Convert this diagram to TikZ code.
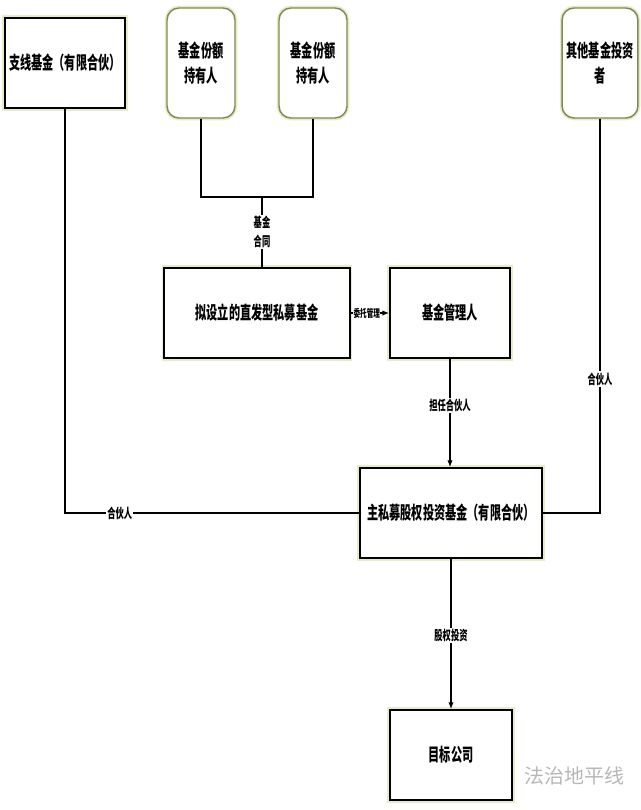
\documentclass[tikz,border=0pt]{standalone}
\usepackage{fontspec}
\setmainfont{Noto Sans CJK SC}[FakeStretch=0.62]
\newfontfamily\markfont{Noto Sans CJK SC}
\usetikzlibrary{arrows.meta,positioning}
\definecolor{glowgreen}{RGB}{228,236,200}
\definecolor{olivedraw}{RGB}{128,138,82}
\tikzset{
  fundbox/.style={
    rectangle,
    draw=black,
    line width=1.5pt,
    fill=white,
    preaction={draw=glowgreen, line width=4pt},
    align=center,
    font=\bfseries\fontsize{13.5}{17}\selectfont,
    minimum height=67.5pt
  },
  holderbox/.style={
    rectangle,
    rounded corners=9pt,
    draw=olivedraw,
    line width=1.1pt,
    fill=white,
    preaction={draw=glowgreen, line width=3.5pt},
    align=center,
    font=\bfseries\fontsize{13.5}{19}\selectfont,
    minimum width=51pt,
    minimum height=82.5pt
  },
  linklabel/.style={
    fill=white,
    inner sep=1pt,
    align=center,
    font=\bfseries\fontsize{10}{14}\selectfont
  },
  link/.style={line width=0.8pt},
  linkarrow/.style={-{Latex[length=5pt,width=4pt]},line width=0.8pt}
}
\begin{document}
\begin{tikzpicture}[x=0.75pt,y=-0.75pt]
  \useasboundingbox[fill=white] (0,0) rectangle (640,810);
  % top row
  \node[fundbox, minimum width=90pt] (branch) at (65,63) {支线基金（有限合伙）};
  \node[holderbox] (holderA) at (201,63) {基金份额\\持有人};
  \node[holderbox] (holderB) at (313,63) {基金份额\\持有人};
  \node[holderbox, minimum width=53pt] (others) at (600,63) {其他基金投资\\者};
  % middle row
  \node[fundbox, minimum width=139pt] (direct) at (257,313) {拟设立的直发型私募基金};
  \node[fundbox, minimum width=90pt] (manager) at (450,313) {基金管理人};
  \node[fundbox, minimum width=136.5pt] (master) at (451,513) {主私募股权投资基金（有限合伙）};
  \node[fundbox, minimum width=91.5pt] (target) at (451,755) {目标公司};
  \coordinate (join) at (262,197);
  % connectors
  \draw[link] (holderA.south) |- (join);
  \draw[link] (holderB.south) |- (join);
  \draw[link] (join) -- node[linklabel]{基金\\合同} (join |- direct.north);
  \draw[linkarrow] (direct) -- node[linklabel, pos=0.42, inner sep=0.3pt, font=\bfseries\fontsize{8}{10}\selectfont]{委托管理} (manager);
  \draw[linkarrow] (manager.south) -- node[linklabel, pos=0.43]{担任合伙人} (manager.south |- master.north);
  \draw[link] (branch.south) |- node[linklabel, pos=0.593]{合伙人} (master.west);
  \draw[link] (others.south) |- node[linklabel, pos=0.33]{合伙人} (master.east);
  \draw[linkarrow] (master.south -| target.north) -- node[linklabel, pos=0.51]{股权投资} (target.north);
  % watermark
  \node[text=black!28, font=\markfont\fontsize{15}{18}\selectfont] (mark) at (574,776) {法治地平线};
\end{tikzpicture}
\end{document}
